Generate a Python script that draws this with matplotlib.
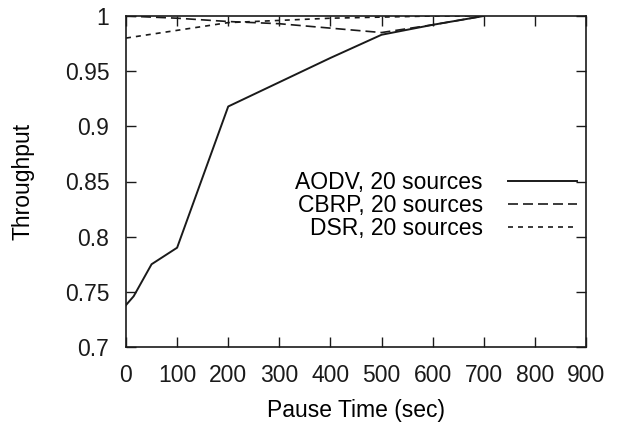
import matplotlib
matplotlib.use("Agg")
import matplotlib.pyplot as plt
from matplotlib.ticker import FuncFormatter

pause = [0, 100, 200, 300, 400, 500, 600, 700]
aodv_x = [0, 15, 50, 100, 200, 300, 400, 500, 600, 700]
aodv_y = [0.738, 0.746, 0.775, 0.790, 0.918, 0.940, 0.962, 0.983, 0.992, 1.0]
cbrp_y = [1.0, 0.998, 0.995, 0.993, 0.989, 0.985, 0.992, 1.0]
dsr_y = [0.980, 0.987, 0.994, 0.996, 0.998, 0.999, 1.0, 1.0]

plt.rcParams["font.family"] = ["Liberation Sans", "DejaVu Sans"]
fs = 16.5

fig = plt.figure(figsize=(6.22, 4.28), dpi=100)
ax = fig.add_axes([126 / 622, 81 / 428, 460 / 622, 331 / 428])

c = "#1a1a1a"
ax.plot(aodv_x, aodv_y, color=c, lw=1.4, label="AODV, 20 sources")
ax.plot(pause, cbrp_y, color=c, lw=1.2, dashes=(6, 3), label="CBRP, 20 sources")
ax.plot(pause, dsr_y, color=c, lw=1.2, dashes=(3, 3), label="DSR, 20 sources")

ax.set_xlim(0, 900)
ax.set_ylim(0.7, 1.0)
ax.set_xticks(range(0, 901, 100))
ax.set_yticks([0.7, 0.75, 0.8, 0.85, 0.9, 0.95, 1.0])
ax.yaxis.set_major_formatter(FuncFormatter(lambda v, p: f"{v:g}"))
ax.tick_params(direction="in", length=7, top=True, right=True, width=1,
               labelsize=fs, colors=c)
ax.tick_params(axis="x", pad=12)
ax.tick_params(axis="y", pad=12)
for s in ax.spines.values():
    s.set_linewidth(1.2)
    s.set_color(c)

ax.set_xlabel("Pause Time (sec)", fontsize=fs, labelpad=9)
ax.set_ylabel("Throughput", fontsize=fs, labelpad=22)

ax.legend(loc="upper right", bbox_to_anchor=(1.0, 0.56), frameon=False,
          markerfirst=False, handlelength=3.0, handletextpad=1.1,
          labelspacing=0.0, fontsize=fs, borderaxespad=0.0)
for t in ax.get_legend().get_texts():
    t.set_ha("right")

fig.savefig("out.png", dpi=100)
